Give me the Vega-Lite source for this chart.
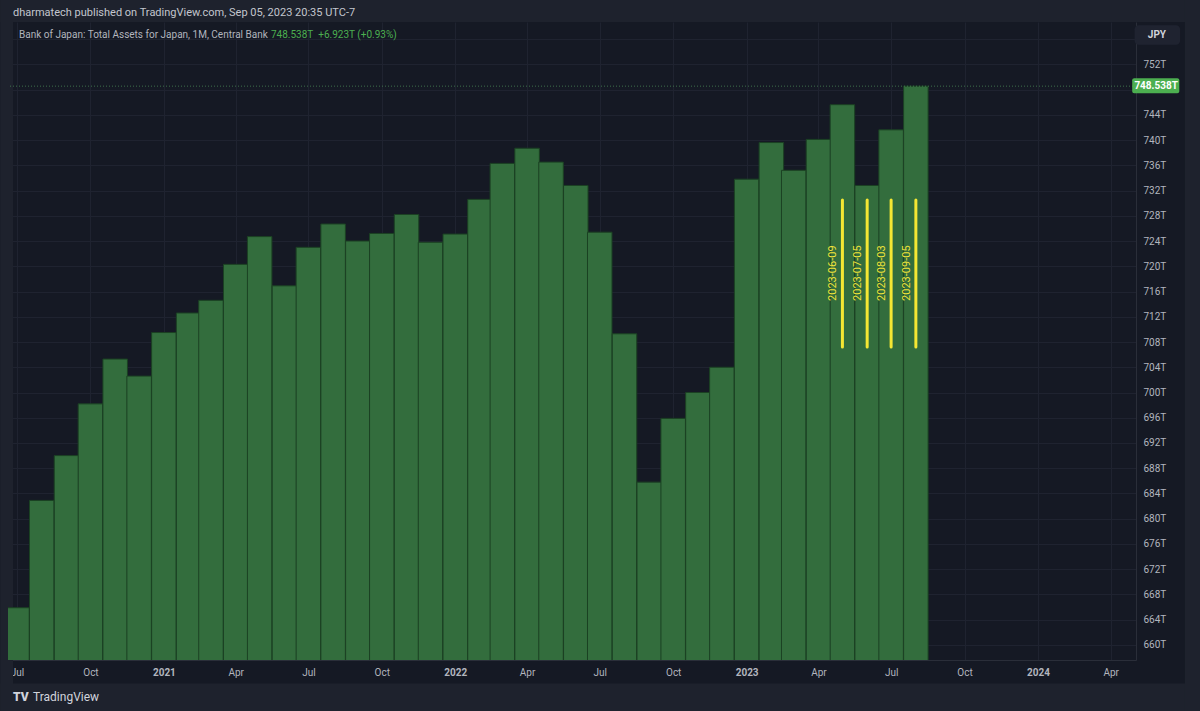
{
  "$schema": "https://vega.github.io/schema/vega-lite/v6.json",
  "width": 1128,
  "height": 638,
  "autosize": "none",
  "padding": {"left": 8, "top": 22, "right": 64, "bottom": 51},
  "background": "#151924",
  "view": {"fill": "#151924", "stroke": null},
  "config": {"font": "Roboto"},
  "data": {"name": "one"},
  "datasets": {
    "one": [{"k": 1}],
    "bars": [
      {"date": "2020-07-01", "value": 665.9},
      {"date": "2020-08-01", "value": 682.9},
      {"date": "2020-09-01", "value": 690.0},
      {"date": "2020-10-01", "value": 698.2},
      {"date": "2020-11-01", "value": 705.3},
      {"date": "2020-12-01", "value": 702.6},
      {"date": "2021-01-01", "value": 709.5},
      {"date": "2021-02-01", "value": 712.6},
      {"date": "2021-03-01", "value": 714.6},
      {"date": "2021-04-01", "value": 720.3},
      {"date": "2021-05-01", "value": 724.7},
      {"date": "2021-06-01", "value": 716.9},
      {"date": "2021-07-01", "value": 723.0},
      {"date": "2021-08-01", "value": 726.7},
      {"date": "2021-09-01", "value": 724.0},
      {"date": "2021-10-01", "value": 725.2},
      {"date": "2021-11-01", "value": 728.2},
      {"date": "2021-12-01", "value": 723.8},
      {"date": "2022-01-01", "value": 725.1},
      {"date": "2022-02-01", "value": 730.6},
      {"date": "2022-03-01", "value": 736.3},
      {"date": "2022-04-01", "value": 738.7},
      {"date": "2022-05-01", "value": 736.5},
      {"date": "2022-06-01", "value": 732.8},
      {"date": "2022-07-01", "value": 725.4},
      {"date": "2022-08-01", "value": 709.3},
      {"date": "2022-09-01", "value": 685.8},
      {"date": "2022-10-01", "value": 695.9},
      {"date": "2022-11-01", "value": 700.0},
      {"date": "2022-12-01", "value": 704.0},
      {"date": "2023-01-01", "value": 733.8},
      {"date": "2023-02-01", "value": 739.6},
      {"date": "2023-03-01", "value": 735.2},
      {"date": "2023-04-01", "value": 740.1},
      {"date": "2023-05-01", "value": 745.6},
      {"date": "2023-06-01", "value": 732.8},
      {"date": "2023-07-01", "value": 741.615},
      {"date": "2023-08-01", "value": 748.538}
    ],
    "notes": [
      {"date": "2023-05-01", "label": "2023-06-09"},
      {"date": "2023-06-01", "label": "2023-07-05"},
      {"date": "2023-07-01", "label": "2023-08-03"},
      {"date": "2023-08-01", "label": "2023-09-05"}
    ]
  },
  "layer": [
    {
      "mark": {"type": "rect", "fill": "#1e222d"},
      "encoding": {
        "x": {"datum": {"year": 2020, "month": 6, "date": 10, "utc": true}, "type": "temporal"},
        "x2": {"datum": {"year": 2024, "month": 7, "date": 25, "utc": true}},
        "y": {"datum": 758.7, "type": "quantitative"},
        "y2": {"datum": 763}
      }
    },
    {
      "mark": {"type": "rect", "fill": "#1e222d"},
      "encoding": {
        "x": {"datum": {"year": 2020, "month": 6, "date": 10, "utc": true}, "type": "temporal"},
        "x2": {"datum": {"year": 2024, "month": 7, "date": 25, "utc": true}},
        "y": {"datum": 653.9, "type": "quantitative"},
        "y2": {"datum": 648}
      }
    },
    {
      "mark": {"type": "rect", "fill": "#1e222d"},
      "encoding": {
        "x": {"datum": {"year": 2020, "month": 6, "date": 10, "utc": true}, "type": "temporal"},
        "x2": {"datum": {"year": 2020, "month": 6, "date": 26, "utc": true}},
        "y": {"datum": 763, "type": "quantitative"},
        "y2": {"datum": 648}
      }
    },
    {
      "mark": {"type": "rect", "fill": "#1e222d"},
      "encoding": {
        "x": {"datum": {"year": 2024, "month": 7, "date": 3, "utc": true}, "type": "temporal"},
        "x2": {"datum": {"year": 2024, "month": 7, "date": 25, "utc": true}},
        "y": {"datum": 763, "type": "quantitative"},
        "y2": {"datum": 648}
      }
    },
    {
      "data": {"name": "bars"},
      "mark": {"type": "bar", "size": 24.5, "fill": "#336d3d", "stroke": "#1b4123", "strokeWidth": 1, "clip": true},
      "encoding": {
        "x": {
          "field": "date",
          "type": "temporal",
          "scale": {
            "type": "utc",
            "domain": [
              {"year": 2020, "month": 6, "date": 26, "utc": true},
              {"year": 2024, "month": 4, "date": 26, "hours": 12, "utc": true}
            ]
          },
          "axis": {
            "orient": "bottom",
            "title": null,
            "tickCount": 40,
            "values": [
              {"year": 2020, "month": 7, "date": 1, "utc": true},
              {"year": 2020, "month": 10, "date": 1, "utc": true},
              {"year": 2021, "month": 1, "date": 1, "utc": true},
              {"year": 2021, "month": 4, "date": 1, "utc": true},
              {"year": 2021, "month": 7, "date": 1, "utc": true},
              {"year": 2021, "month": 10, "date": 1, "utc": true},
              {"year": 2022, "month": 1, "date": 1, "utc": true},
              {"year": 2022, "month": 4, "date": 1, "utc": true},
              {"year": 2022, "month": 7, "date": 1, "utc": true},
              {"year": 2022, "month": 10, "date": 1, "utc": true},
              {"year": 2023, "month": 1, "date": 1, "utc": true},
              {"year": 2023, "month": 4, "date": 1, "utc": true},
              {"year": 2023, "month": 7, "date": 1, "utc": true},
              {"year": 2023, "month": 10, "date": 1, "utc": true},
              {"year": 2024, "month": 1, "date": 1, "utc": true},
              {"year": 2024, "month": 4, "date": 1, "utc": true}
            ],
            "labelExpr": "utcmonth(datum.value) == 0 ? utcFormat(datum.value, '%Y') : utcFormat(datum.value, '%b')",
            "labelFontWeight": {"condition": {"test": "utcmonth(datum.value) == 0", "value": "bold"}, "value": "normal"},
            "labelColor": "#b2b5be",
            "labelFontSize": 10,
            "labelPadding": 7,
            "labelOverlap": false,
            "labelFlush": false,
            "ticks": false,
            "domain": true,
            "domainColor": "#2a2e39",
            "grid": true,
            "gridColor": "#1f2330",
            "gridWidth": 1
          }
        },
        "y": {
          "field": "value",
          "type": "quantitative",
          "scale": {"domain": [657.62, 758.7], "zero": false, "nice": false},
          "axis": {
            "orient": "right",
            "title": null,
            "tickCount": 40,
            "values": [660, 664, 668, 672, 676, 680, 684, 688, 692, 696, 700, 704, 708, 712, 716, 720, 724, 728, 732, 736, 740, 744, 748, 752, 756],
            "labelExpr": "datum.value == 748 || datum.value == 756 ? '' : datum.value + 'T'",
            "labelColor": "#b2b5be",
            "labelFontSize": 10,
            "labelPadding": 7,
            "labelBaseline": "middle",
            "labelOverlap": false,
            "labelFlush": false,
            "ticks": false,
            "domain": true,
            "domainColor": "#2a2e39",
            "grid": true,
            "gridColor": "#1f2330",
            "gridWidth": 1
          }
        },
        "y2": {"datum": 650}
      }
    },
    {
      "mark": {"type": "rule", "color": "#5aa862", "opacity": 0.6, "strokeDash": [1, 2], "strokeWidth": 1},
      "encoding": {"y": {"datum": 748.538, "type": "quantitative"}}
    },
    {
      "data": {"name": "notes"},
      "mark": {"type": "rule", "color": "#f5e733", "strokeWidth": 3, "strokeCap": "round"},
      "encoding": {
        "x": {"field": "date", "type": "temporal"},
        "y": {"datum": 730.5, "type": "quantitative"},
        "y2": {"datum": 707.2}
      }
    },
    {
      "data": {"name": "notes"},
      "mark": {"type": "text", "angle": 270, "align": "center", "baseline": "middle", "dy": -9, "fontSize": 11, "color": "#f0e43a"},
      "encoding": {
        "x": {"field": "date", "type": "temporal"},
        "y": {"datum": 718.9, "type": "quantitative"},
        "text": {"field": "label"}
      }
    },
    {
      "mark": {"type": "text", "align": "left", "baseline": "middle", "dx": 0, "dy": -9, "fontSize": 11, "color": "#c3c6ce"},
      "encoding": {
        "x": {"datum": {"year": 2020, "month": 6, "date": 26, "utc": true}, "type": "temporal"},
        "y": {"datum": 758.7, "type": "quantitative"},
        "text": {"value": "dharmatech published on TradingView.com, Sep 05, 2023 20:35 UTC-7"}
      }
    },
    {
      "mark": {"type": "text", "align": "left", "baseline": "middle", "dx": 6, "dy": 13, "fontSize": 10, "color": "#b2b5be"},
      "encoding": {
        "x": {"datum": {"year": 2020, "month": 6, "date": 26, "utc": true}, "type": "temporal"},
        "y": {"datum": 758.7, "type": "quantitative"},
        "text": {"value": "Bank of Japan: Total Assets for Japan, 1M, Central Bank"}
      }
    },
    {
      "mark": {"type": "text", "align": "left", "baseline": "middle", "dx": 258, "dy": 13, "fontSize": 10, "color": "#4caf50"},
      "encoding": {
        "x": {"datum": {"year": 2020, "month": 6, "date": 26, "utc": true}, "type": "temporal"},
        "y": {"datum": 758.7, "type": "quantitative"},
        "text": {"value": "748.538T\u00a0\u00a0+6.923T (+0.93%)"}
      }
    },
    {
      "mark": {"type": "rect", "fill": "#4caf50", "cornerRadius": 2},
      "encoding": {
        "x": {"datum": {"year": 2024, "month": 4, "date": 28, "utc": true}, "type": "temporal"},
        "x2": {"datum": {"year": 2024, "month": 6, "date": 26, "utc": true}},
        "y": {"datum": 749.8, "type": "quantitative"},
        "y2": {"datum": 747.4}
      }
    },
    {
      "mark": {"type": "text", "align": "center", "baseline": "middle", "fontSize": 10, "fontWeight": "bold", "color": "#ffffff"},
      "encoding": {
        "x": {"datum": {"year": 2024, "month": 5, "date": 28, "utc": true}, "type": "temporal"},
        "y": {"datum": 748.538, "type": "quantitative"},
        "text": {"value": "748.538T"}
      }
    },
    {
      "mark": {"type": "rect", "fill": "#1f2330", "cornerRadius": 4},
      "encoding": {
        "x": {"datum": {"year": 2024, "month": 5, "date": 1, "utc": true}, "type": "temporal"},
        "x2": {"datum": {"year": 2024, "month": 6, "date": 27, "utc": true}},
        "y": {"datum": 758.2, "type": "quantitative"},
        "y2": {"datum": 755.1}
      }
    },
    {
      "mark": {"type": "text", "align": "center", "baseline": "middle", "fontSize": 10, "fontWeight": "bold", "color": "#d1d4dc"},
      "encoding": {
        "x": {"datum": {"year": 2024, "month": 5, "date": 29, "utc": true}, "type": "temporal"},
        "y": {"datum": 756.7, "type": "quantitative"},
        "text": {"value": "JPY"}
      }
    },
    {
      "mark": {"type": "text", "align": "left", "baseline": "middle", "dx": 0, "dy": 37, "fontSize": 12, "fontWeight": 900, "color": "#d1d4dc"},
      "encoding": {
        "x": {"datum": {"year": 2020, "month": 6, "date": 26, "utc": true}, "type": "temporal"},
        "y": {"datum": 657.62, "type": "quantitative"},
        "text": {"value": "TV"}
      }
    },
    {
      "mark": {"type": "text", "align": "left", "baseline": "middle", "dx": 20, "dy": 37, "fontSize": 12, "color": "#d1d4dc"},
      "encoding": {
        "x": {"datum": {"year": 2020, "month": 6, "date": 26, "utc": true}, "type": "temporal"},
        "y": {"datum": 657.62, "type": "quantitative"},
        "text": {"value": "TradingView"}
      }
    }
  ]
}
